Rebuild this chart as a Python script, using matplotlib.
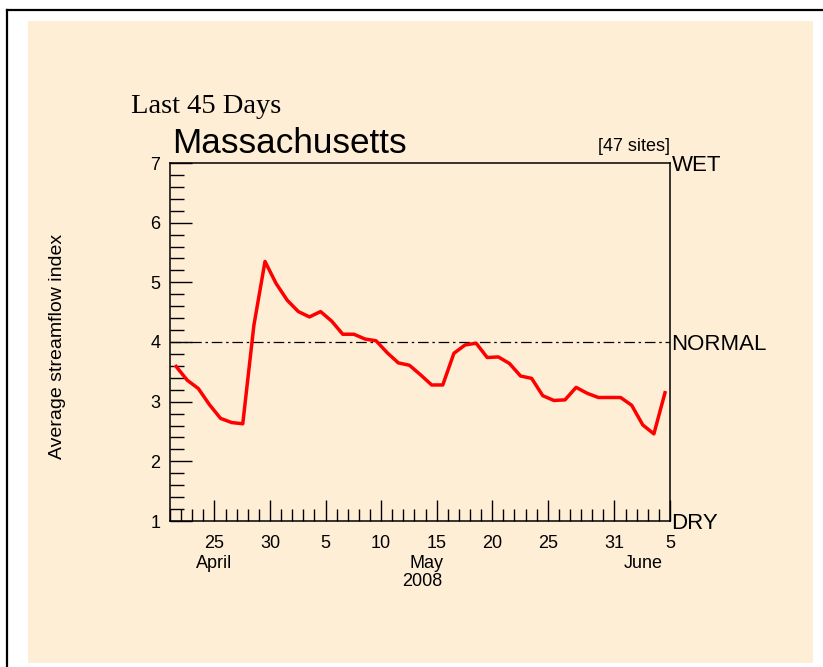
import numpy as np
import matplotlib
matplotlib.use("Agg")
import matplotlib.pyplot as plt
from matplotlib.patches import Rectangle
from matplotlib.lines import Line2D

# daily average streamflow index, Apr 21 .. Jun 4 2008 (45 days)
day_offset = np.arange(45) + 0.55
index_vals = [3.59, 3.36, 3.22, 2.95, 2.72, 2.65, 2.63, 4.28, 5.35, 4.98,
              4.70, 4.51, 4.42, 4.51, 4.35, 4.13, 4.13, 4.05, 4.02, 3.82,
              3.65, 3.61, 3.45, 3.28, 3.28, 3.81, 3.95, 3.98, 3.74, 3.75,
              3.64, 3.43, 3.39, 3.10, 3.02, 3.03, 3.24, 3.14, 3.07, 3.07,
              3.07, 2.94, 2.61, 2.46, 3.15]

major_days = [4, 9, 14, 19, 24, 29, 34, 40, 45]
major_labels = ["25", "30", "5", "10", "15", "20", "25", "31", "5"]
months = [("April", 4.0), ("May", 23.1), ("June", 42.6)]
year_label = ("2008", 22.7)
normal_level = 4
side_labels = [("WET", 7), ("NORMAL", 4), ("DRY", 1)]

sans = "Liberation Sans"
serif = "Liberation Serif"
beige = "#FFEED6"

fig = plt.figure(figsize=(8.23, 6.67), dpi=100)
fig.patch.set_facecolor("white")

# beige panel and the black frame lines
fig.patches.append(Rectangle((28 / 823, 4 / 667), 785 / 823, 642 / 667,
                             transform=fig.transFigure, facecolor=beige,
                             edgecolor="none", zorder=-10))
fig.lines.append(Line2D([7 / 823, 7 / 823], [0, 1 - 10 / 667],
                        transform=fig.transFigure, color="black", lw=1.6,
                        zorder=-10))
fig.lines.append(Line2D([7 / 823, 1], [1 - 10 / 667, 1 - 10 / 667],
                        transform=fig.transFigure, color="black", lw=1.6,
                        zorder=-10))

ax = fig.add_axes([170 / 823, 146 / 667, 500 / 823, 358 / 667])
ax.set_facecolor("none")

ax.plot(day_offset, index_vals, color="red", lw=2.5, zorder=3)
ax.axhline(normal_level, color="black", lw=0.9, dashes=(8.5, 3, 2, 3), zorder=2)

ax.set_xlim(0, 45)
ax.set_ylim(1, 7)

ax.set_xticks(major_days)
ax.set_xticklabels(major_labels)
ax.set_xticks(np.arange(0, 46), minor=True)
ax.set_yticks(range(1, 8))
ax.set_yticks(np.arange(1, 7.01, 0.2), minor=True)

ax.tick_params(axis="both", which="both", direction="in", color="black",
               top=False, right=False)
ax.tick_params(axis="x", which="major", length=15, width=1, pad=10,
               labelsize=13)
ax.tick_params(axis="x", which="minor", length=9, width=1)
ax.tick_params(axis="y", which="major", length=16, width=1, pad=7,
               labelsize=13)
ax.tick_params(axis="y", which="minor", length=10, width=1)
for lab in ax.get_xticklabels() + ax.get_yticklabels():
    lab.set_fontfamily(sans)

for sp in ax.spines.values():
    sp.set_color("black")
    sp.set_linewidth(1.1)

# month / year labels under the axis
trans = ax.get_xaxis_transform()
for name, pos in months:
    ax.text(pos, -0.12, name, transform=trans, ha="center", va="center",
            fontsize=13, family=sans, clip_on=False)
ax.text(year_label[1], -0.17, year_label[0], transform=trans, ha="center",
        va="center", fontsize=13, family=sans, clip_on=False)

# WET / NORMAL / DRY on the right
for name, lev in side_labels:
    ax.text(1.003, lev, name, transform=ax.get_yaxis_transform(),
            ha="left", va="center_baseline", fontsize=16, family=sans,
            clip_on=False)

ax.text(1.0, 1.022, "[47 sites]", transform=ax.transAxes, ha="right",
        va="bottom", fontsize=13, family=sans)

fig.text(172 / 823, 1 - 153 / 667, "Massachusetts", fontsize=25.3,
         family=sans, ha="left", va="baseline")
fig.text(131 / 823, 1 - 113 / 667, "Last 45 Days", fontsize=20.5,
         family=serif, ha="left", va="baseline")
fig.text(58 / 823, 1 - 346 / 667, "Average streamflow index", rotation=90,
         fontsize=14, family=sans, ha="center", va="center")

fig.savefig("out.png", dpi=100)
